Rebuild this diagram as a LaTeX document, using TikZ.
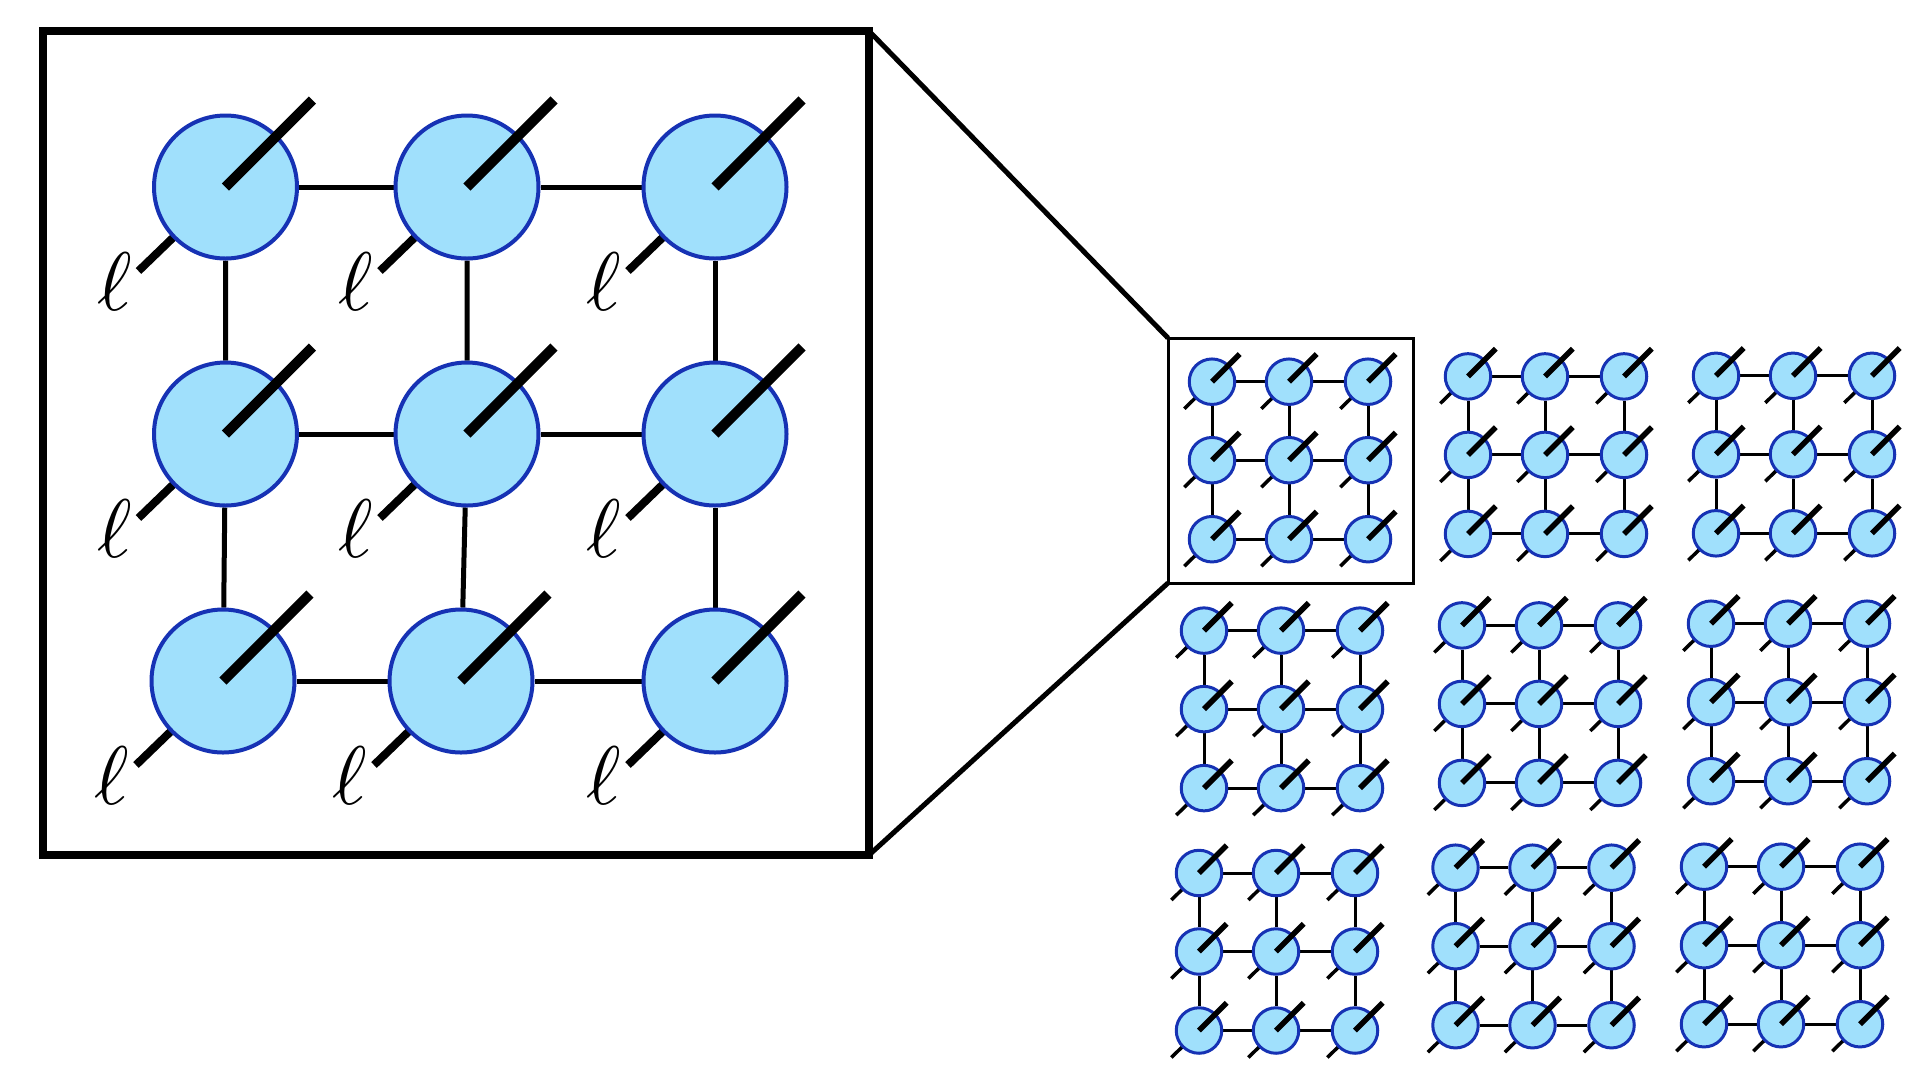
\documentclass[tikz,border=0pt]{standalone}
\usetikzlibrary{backgrounds}
\definecolor{sitefill}{RGB}{160,224,252}
\definecolor{siteedge}{RGB}{22,50,180}
\tikzset{
  site/.style={circle, draw=siteedge, fill=sitefill, line width=4pt, minimum size=143pt, inner sep=0pt},
  ssite/.style={circle, draw=siteedge, fill=sitefill, line width=3pt, minimum size=45.5pt, inner sep=0pt},
  bond/.style={line width=5pt},
  sbond/.style={line width=3pt},
  upleg/.style={line width=10pt},
  lowleg/.style={line width=8pt},
  supleg/.style={line width=5.5pt},
  slowleg/.style={line width=3.5pt},
  ell/.style={inner sep=0pt, scale=8.3},
  frame/.style={draw, inner sep=0pt, outer sep=0pt},
  zoomline/.style={line width=5pt}
}
\newcommand{\smallgrid}[3]{%
  \foreach \r/\yo in {1/0,2/78.5,3/157.5}{%
    \foreach \c/\xo in {1/0,2/77,3/156}{%
      \node[ssite] (#1-\r-\c) at (#2+\xo,#3+\yo) {};
      \draw[supleg] (#1-\r-\c.center) -- ++(27.7,-27.7);
    }}%
  \begin{pgfonlayer}{background}
    \foreach \r in {1,2,3}{\draw[sbond] (#1-\r-1) -- (#1-\r-2) -- (#1-\r-3);}
    \foreach \c in {1,2,3}{\draw[sbond] (#1-1-\c) -- (#1-2-\c) -- (#1-3-\c);}
    \foreach \r in {1,2,3}{\foreach \c in {1,2,3}{\draw[slowleg] (#1-\r-\c.center) -- ++(-27.7,27);}}
  \end{pgfonlayer}%
}
\begin{document}
\begin{tikzpicture}[x=1pt,y=-1pt]
\begin{pgfonlayer}{background}
  \fill[white] (0,0) rectangle (1920,1080);
\end{pgfonlayer}
\useasboundingbox (0,0) rectangle (1920,1080);

% big frame and zoom frame
\node[frame, line width=7.5pt, minimum width=826pt, minimum height=824pt] (bigbox) at (456,443) {};
\node[frame, line width=3pt, minimum width=245pt, minimum height=245pt] (smallbox) at (1290.5,460.5) {};
\draw[zoomline] (bigbox.north east) -- (smallbox.north west);
\draw[zoomline] (bigbox.south east) -- (smallbox.south west);

% big grid
\foreach \n/\x/\y in {1-1/225.5/187, 1-2/467/187, 1-3/715/187,
                      2-1/225.5/434, 2-2/467/434, 2-3/715/434,
                      3-1/223/681, 3-2/461/681, 3-3/715/681}{%
  \node[site] (b-\n) at (\x,\y) {};
  \draw[upleg] (b-\n.center) -- ++(87,-87);
  \node[ell] (l-\n) at ([shift={(-111,94.5)}]b-\n.center) {$\ell$};
}
\begin{pgfonlayer}{background}
  \foreach \r in {1,2,3}{\draw[bond] (b-\r-1) -- (b-\r-2) -- (b-\r-3);}
  \foreach \c in {1,2,3}{\draw[bond] (b-1-\c) -- (b-2-\c) -- (b-3-\c);}
  \foreach \r in {1,2,3}{\foreach \c in {1,2,3}{\draw[lowleg] (b-\r-\c.center) -- ++(-87,84);}}
\end{pgfonlayer}

% small grids
\smallgrid{g11}{1212}{381.7}
\smallgrid{g12}{1468}{376.4}
\smallgrid{g13}{1716}{375.8}
\smallgrid{g21}{1204}{630.6}
\smallgrid{g22}{1462}{625.4}
\smallgrid{g23}{1711}{623.7}
\smallgrid{g31}{1199}{873}
\smallgrid{g32}{1455.5}{867.7}
\smallgrid{g33}{1704}{866.7}
\end{tikzpicture}
\end{document}
